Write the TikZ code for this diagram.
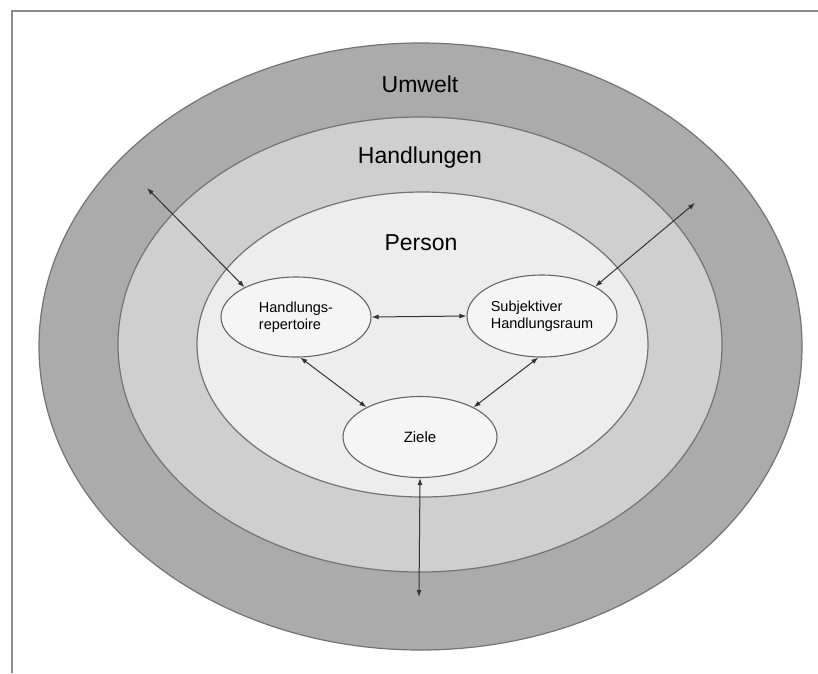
\documentclass[tikz,border=0pt]{standalone}
\usepackage{fontspec}
\setmainfont{Liberation Sans}
\usetikzlibrary{shapes.geometric}
\usetikzlibrary{arrows.meta}
\tikzset{>={Latex[length=7pt,width=5pt]}}
\tikzset{ring/.style={ellipse, draw=black!55, line width=1.2pt, inner sep=0pt}}
\tikzset{part/.style={ellipse, draw=black!60, line width=1.1pt, fill=black!4, inner sep=0pt, align=left, font=\fontsize{14.5}{17}\selectfont}}
\tikzset{title/.style={font=\fontsize{23}{26}\selectfont}}
\tikzset{link/.style={<->, draw=black!80, line width=1pt}}

\begin{document}
\begin{tikzpicture}[x=1pt, y=-1pt]
    \useasboundingbox (0,0) rectangle (818,673);
    \draw [black!45, line width=1.5pt] (12,673) -- (12,11) -- (818,11);

    % rings
    \node [ring, fill=black!33, minimum width=763pt, minimum height=607pt] (umwelt) at (420.5,346.5) {};
    \node [ring, fill=black!19, minimum width=604pt, minimum height=455pt] (handlungen) at (420,344.5) {};
    \node [ring, fill=black!7, minimum width=451pt, minimum height=305pt] (person) at (422.5,344.5) {};

    \node [title] (umweltLabel) at (420,84) {Umwelt};
    \node [title] (handlungenLabel) at (420,158) {Handlungen};
    \node [title] (personLabel) at (421,243) {Person};

    % parts of the person
    \node [part, minimum width=150pt, minimum height=80pt] (repertoire) at (296,317) {Handlungs-\\repertoire};
    \node [part, minimum width=150pt, minimum height=82pt] (raum) at (542,316) {Subjektiver\\Handlungsraum};
    \node [part, minimum width=154pt, minimum height=81pt, font=\fontsize{15}{17}\selectfont] (ziele) at (420,437) {Ziele};

    \coordinate (outLeft) at (147,188);
    \coordinate (outRight) at (695,203);
    \coordinate (outDown) at (419,597);

    \draw [link] (outLeft) -- (repertoire.150);
    \draw [link] (outRight) -- (raum.29);
    \draw [link] (repertoire.east) -- (raum.west);
    \draw [link] (repertoire.-84) -- (ziele.151);
    \draw [link] (raum.-95) -- (ziele.29);
    \draw [link] (ziele.-90) -- (outDown);

\end{tikzpicture}
\end{document}
